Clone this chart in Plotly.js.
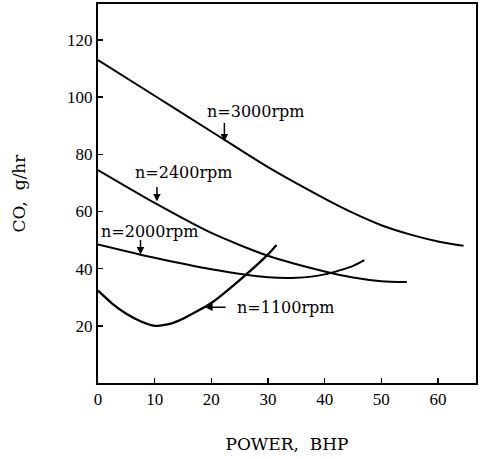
<!DOCTYPE html>
<html>
<head>
<meta charset="utf-8">
<script src="https://cdn.plot.ly/plotly-3.0.1.min.js"></script>
<style>html,body{margin:0;padding:0;background:#fff;}#chart{width:487px;height:458px;}</style>
</head>
<body>
<div id="chart"></div>
<script>
// Data (POWER in BHP, CO in g/hr)
const x3000 = [0, 10, 20, 30, 40, 45, 50, 55, 60, 64.5];
const y3000 = [113, 100.5, 88, 75.5, 64.5, 59.5, 55.2, 52, 49.5, 48];
const x2400 = [0, 10, 20, 30, 40, 45, 50, 54.5];
const y2400 = [74.5, 63, 52.5, 44.5, 39, 36.9, 35.6, 35.3];
const x2000 = [0, 10, 20, 30, 35, 40, 45, 47];
const y2000 = [48.5, 43.8, 39.8, 37, 36.8, 38, 41, 43];
const x1100 = [0, 2.5, 5, 7.5, 10, 12.5, 15, 20, 25, 30, 31.5];
const y1100 = [32.3, 27.8, 24.2, 21.6, 20, 20.6, 22.5, 28, 36, 45, 48.3];

const xTicks = [0, 10, 20, 30, 40, 50, 60];
const yTicks = [20, 40, 60, 80, 100, 120];

const labels = ["n=3000rpm", "n=2400rpm", "n=2000rpm", "n=1100rpm"];
const labelX = [27.9, 15.2, 9.2, 33.2];
const labelY = [95.1, 73.7, 53.1, 26.5];
const arrowX = [22.3, 10.4, 7.5, 18.9];
const arrowY = [84.5, 63.5, 45, 26.5];
const arrowAx = [0, 0, 0, 22];
const arrowAy = [-20, -16, -16, 0];

const line = {color: '#000', width: 2, shape: 'spline', smoothing: 0.7};
const traces = [
  {x: x3000, y: y3000, mode: 'lines', line: line, hoverinfo: 'skip'},
  {x: x2400, y: y2400, mode: 'lines', line: line, hoverinfo: 'skip'},
  {x: x2000, y: y2000, mode: 'lines', line: line, hoverinfo: 'skip'},
  {x: x1100, y: y1100, mode: 'lines', line: Object.assign({}, line, {width: 2.3, smoothing: 0.5}), hoverinfo: 'skip'}
];

const annotations = [];
for (let i = 0; i < labels.length; i++) {
  annotations.push({x: labelX[i], y: labelY[i], xref: 'x', yref: 'y', text: labels[i],
    showarrow: false, font: {family: 'DejaVu Serif', size: 16, color: '#000'}});
  annotations.push({x: arrowX[i], y: arrowY[i], xref: 'x', yref: 'y', text: '',
    showarrow: true, ax: arrowAx[i], ay: arrowAy[i], arrowhead: 2, arrowsize: 1,
    arrowwidth: 1.5, arrowcolor: '#000'});
}

const tickFont = {family: '"Liberation Serif", "Times New Roman", serif', size: 17, color: '#000'};

const layout = {
  width: 487, height: 458,
  margin: {l: 98, r: 11, t: 4, b: 75, pad: 0},
  paper_bgcolor: '#fff', plot_bgcolor: '#fff',
  showlegend: false,
  font: {family: '"Liberation Serif", serif', color: '#000'},
  xaxis: {
    range: [0, 66.7], tickvals: xTicks, ticktext: xTicks.map(String),
    ticks: 'inside', ticklen: 5, tickwidth: 1.5, tickcolor: '#000',
    showline: true, linewidth: 2, linecolor: '#000', mirror: true,
    showgrid: false, zeroline: false,
    tickfont: tickFont,
    title: {text: 'POWER,\u00a0\u00a0BHP', standoff: 30, font: {family: 'DejaVu Serif', size: 17, color: '#000'}}
  },
  yaxis: {
    range: [0, 132.6], tickvals: yTicks, ticktext: yTicks.map(String),
    ticks: 'inside', ticklen: 5, tickwidth: 1.5, tickcolor: '#000',
    showline: true, linewidth: 2, linecolor: '#000', mirror: true,
    showgrid: false, zeroline: false,
    tickfont: tickFont,
    title: {text: 'CO,\u00a0\u00a0g/hr', standoff: 37, font: {family: 'DejaVu Serif', size: 17, color: '#000'}}
  },
  annotations: annotations
};

Plotly.newPlot('chart', traces, layout, {staticPlot: true, displayModeBar: false});
</script>
</body>
</html>
